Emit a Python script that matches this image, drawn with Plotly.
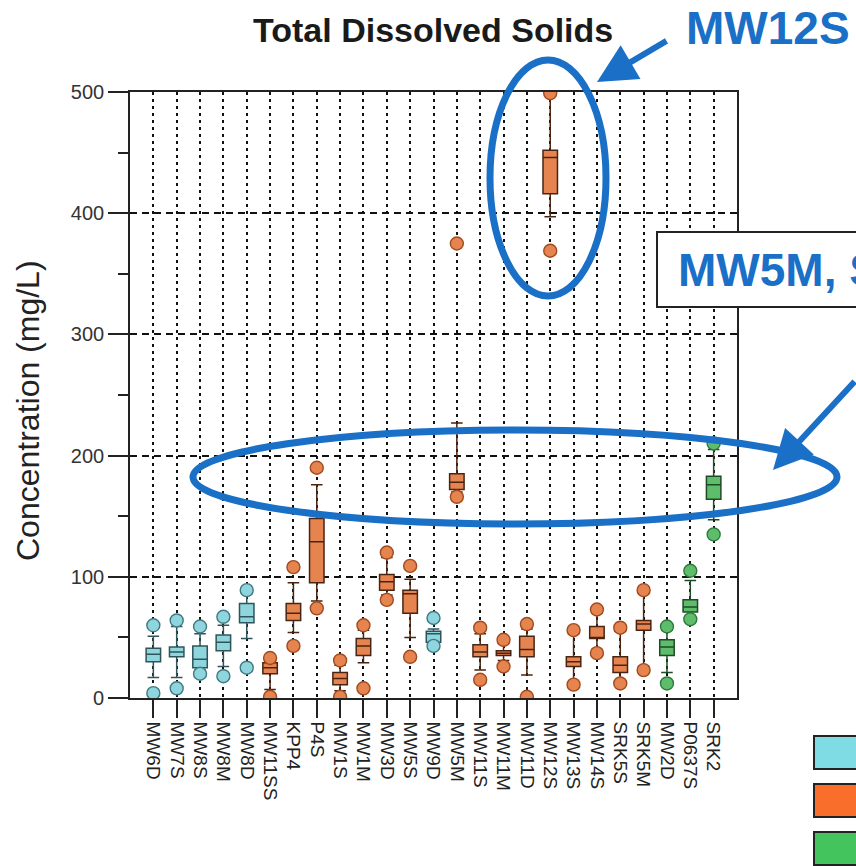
import plotly.graph_objects as go

# Monitoring wells, in plotting order
wells = ["MW6D", "MW7S", "MW8S", "MW8M", "MW8D", "MW11SS", "KPP4", "P4S", "MW1S",
         "MW1M", "MW3D", "MW5S", "MW9D", "MW5M", "MW11S", "MW11M", "MW11D", "MW12S",
         "MW13S", "MW14S", "SRK5S", "SRK5M", "MW2D", "P0637S", "SRK2"]

# Box statistics of TDS (mg/L) per well
lower_fence = [17, 17, 23, 26, 49, 7, 54, 80, 6, 29, 85, 50, 45, 170, 23, 31, 19, 397,
               13, 40, 14, 26, 21, 68, 147]
q1 = [30, 34, 25, 39, 62, 20, 64, 95, 11, 35, 89, 70, 46, 172, 34, 35, 34, 416,
      26, 49, 21, 56, 35, 71, 164]
median = [36, 38, 32, 46, 67, 25, 70, 129, 16, 43, 96, 86, 53, 178, 38, 37, 40, 446,
          30, 50, 27, 61, 42, 75, 176]
q3 = [41, 42, 43, 52, 78, 29, 78, 148, 21, 49, 102, 89, 55, 185, 44, 39, 51, 452,
      34, 59, 34, 64, 48, 81, 183]
upper_fence = [51, 59, 53, 60, 86, 31, 95, 176, 27, 56, 116, 98, 57, 227, 53, 45, 57, 497,
               53, 70, 55, 86, 56, 97, 205]
# Outlying samples (high, low) per well
outlier_high = [60, 64, 59, 67, 89, 33, 108, 190, 31, 60, 120, 109, 66, 375, 58, 48, 61, 499,
                56, 73, 58, 89, 59, 105, 210]
outlier_low = [4, 8, 20, 18, 25, 1, 43, 74, 1, 8, 81, 34, 43, 166, 15, 26, 1, 369,
               11, 37, 12, 23, 12, 65, 135]

# Well groups
group_of = ["bg"] * 5 + ["dn"] * 7 + ["bg"] + ["dn"] * 9 + ["gn"] * 3

styles = {
    "bg": dict(fill="#8fd5dd", line="#2f555a", mline="#3f7a82"),
    "dn": dict(fill="#e6844f", line="#4a2412", mline="#a04a20"),
    "gn": dict(fill="#5dbd6b", line="#1e4a28", mline="#2f7a3c"),
}
legend_colors = ["#80dce4", "#fa6e2c", "#44c45c"]

FONT = "Liberation Sans, Arial, sans-serif"
BLUE = "#1a6fc6"

fig = go.Figure()

for g, st in styles.items():
    idx = [i for i, k in enumerate(group_of) if k == g]
    fig.add_trace(go.Box(
        x=[wells[i] for i in idx],
        q1=[q1[i] for i in idx],
        median=[median[i] for i in idx],
        q3=[q3[i] for i in idx],
        lowerfence=[lower_fence[i] for i in idx],
        upperfence=[upper_fence[i] for i in idx],
        boxpoints=False,
        width=0.62,
        whiskerwidth=0.8,
        fillcolor=st["fill"],
        line=dict(color=st["line"], width=1.5),
        showlegend=False,
    ))
    ox, oy = [], []
    for i in idx:
        ox += [wells[i], wells[i]]
        oy += [outlier_high[i], outlier_low[i]]
    fig.add_trace(go.Scatter(
        x=ox, y=oy, mode="markers",
        marker=dict(size=13, color=st["fill"], line=dict(color=st["mline"], width=1.4)),
        showlegend=False,
    ))

fig.update_layout(
    width=856, height=866,
    margin=dict(l=130, r=119, t=92, b=168),
    paper_bgcolor="white", plot_bgcolor="white",
    boxmode="overlay",
    font=dict(family=FONT, color="#222"),
)

fig.update_xaxes(
    type="category", categoryorder="array", categoryarray=wells,
    range=[-1, 25],
    tickangle=90, tickfont=dict(size=19, color="#222"),
    ticks="outside", ticklen=18, tickwidth=1.5, tickcolor="#222",
    showgrid=True, gridcolor="#111", gridwidth=1.7, griddash="3px,4px",
    showline=True, mirror=True, linecolor="#222", linewidth=1.6,
    zeroline=False,
)
fig.update_yaxes(
    range=[0, 500], dtick=100,
    tickfont=dict(size=20, color="#333"),
    ticks="outside", ticklen=20, tickwidth=1.5, tickcolor="#222",
    minor=dict(dtick=50, ticks="outside", ticklen=10, tickwidth=1.5, tickcolor="#222", showgrid=False),
    showgrid=True, gridcolor="#111", gridwidth=1.6, griddash="7px,5px",
    showline=True, mirror=True, linecolor="#222", linewidth=1.6,
    zeroline=False,
)


def px(x):
    return (x - 130) / 607


def py(y):
    return (698 - y) / 606


annotations = [
    dict(text="<b>Total Dissolved Solids</b>", x=px(433), y=py(30), xref="paper", yref="paper",
         showarrow=False, font=dict(size=34, color="#1a1a1a", family=FONT),
         xanchor="center", yanchor="middle"),
    dict(text="Concentration (mg/L)", x=px(28), y=py(410), xref="paper", yref="paper",
         showarrow=False, textangle=-90, font=dict(size=32, color="#222", family=FONT),
         xanchor="center", yanchor="middle"),
    dict(text="<b>MW12S</b>", x=px(684), y=py(28), xref="paper", yref="paper",
         showarrow=False, font=dict(size=46, color=BLUE, family=FONT),
         xanchor="left", yanchor="middle"),
    dict(text="<b>MW5M, SRK2</b>", x=px(676), y=py(270), xref="paper", yref="paper",
         showarrow=False, font=dict(size=46, color=BLUE, family=FONT),
         xanchor="left", yanchor="middle"),
    # arrows
    dict(text="", x=px(597), y=py(82), xref="paper", yref="paper",
         ax=71, ay=-42, axref="pixel", ayref="pixel", showarrow=True,
         arrowhead=2, arrowsize=1.3, arrowwidth=6, arrowcolor=BLUE),
    dict(text="", x=px(773), y=py(470), xref="paper", yref="paper",
         ax=92, ay=-90, axref="pixel", ayref="pixel", showarrow=True,
         arrowhead=2, arrowsize=1.3, arrowwidth=6, arrowcolor=BLUE),
]

shapes = [
    dict(type="circle", xref="paper", yref="paper", x0=px(490), x1=px(606), y0=py(60), y1=py(296),
         line=dict(color=BLUE, width=7)),
    dict(type="circle", xref="paper", yref="paper", x0=px(193), x1=px(837), y0=py(430), y1=py(524),
         line=dict(color=BLUE, width=7)),
    dict(type="rect", xref="paper", yref="paper", x0=px(657), x1=px(920), y0=py(232), y1=py(307),
         fillcolor="white", line=dict(color="#222", width=2)),
]
for c, (y0, y1) in zip(legend_colors, [(736, 769), (784, 817), (832, 865)]):
    shapes.append(dict(type="rect", xref="paper", yref="paper", x0=px(814), x1=px(900),
                       y0=py(y0), y1=py(y1), fillcolor=c, line=dict(color="#222", width=2)))

fig.update_layout(annotations=annotations, shapes=shapes)

fig.write_html("out.html")
